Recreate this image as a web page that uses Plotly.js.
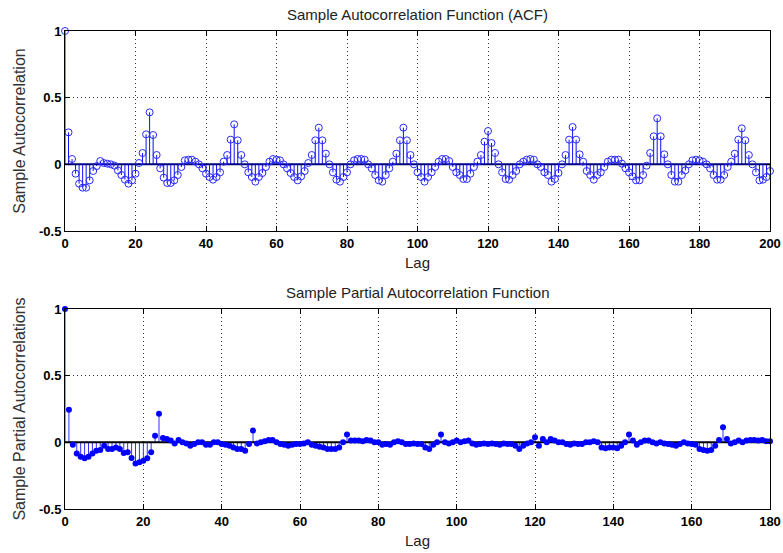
<!DOCTYPE html>
<html>
<head>
<meta charset="utf-8">
<script src="https://cdn.plot.ly/plotly-3.0.1.min.js"></script>
<style>html,body{margin:0;padding:0;background:#fff;}#chart{width:783px;height:553px;}</style>
</head>
<body>
<div id="chart"></div>
<script>
// ACF values, lags 0..200
const acfValues = [
 1.00, 0.24, 0.04, -0.07, -0.145, -0.175, -0.175, -0.12, -0.05, -0.013,
 0.025, 0.01, 0.005, 0.0, -0.01, -0.045, -0.08, -0.115, -0.145, -0.12,
 -0.07, 0.01, 0.085, 0.225, 0.39, 0.22, 0.07, -0.03, -0.10, -0.14,
 -0.14, -0.12, -0.08, -0.02, 0.03, 0.035, 0.035, 0.02, 0.0, -0.03,
 -0.07, -0.095, -0.115, -0.095, -0.06, 0.02, 0.07, 0.185, 0.30, 0.18,
 0.07, 0.0, -0.06, -0.095, -0.13, -0.095, -0.065, -0.02, 0.02, 0.04,
 0.035, 0.03, 0.0, -0.03, -0.065, -0.095, -0.12, -0.09, -0.05, 0.01,
 0.07, 0.18, 0.275, 0.18, 0.08, 0.0, -0.06, -0.115, -0.13, -0.095,
 -0.06, 0.0, 0.03, 0.04, 0.04, 0.035, 0.0, -0.03, -0.08, -0.12,
 -0.13, -0.08, -0.03, 0.02, 0.08, 0.18, 0.275, 0.18, 0.07, 0.0,
 -0.06, -0.095, -0.13, -0.095, -0.06, -0.02, 0.02, 0.04, 0.04, 0.025,
 -0.02, -0.06, -0.08, -0.11, -0.11, -0.07, -0.02, 0.02, 0.07, 0.17,
 0.25, 0.16, 0.085, 0.0, -0.06, -0.11, -0.115, -0.08, -0.05, 0.0,
 0.02, 0.035, 0.04, 0.035, 0.0, -0.02, -0.06, -0.08, -0.13, -0.11,
 -0.065, 0.0, 0.07, 0.185, 0.28, 0.185, 0.075, 0.02, -0.05, -0.08,
 -0.115, -0.08, -0.06, -0.02, 0.02, 0.035, 0.035, 0.035, 0.005, -0.03,
 -0.06, -0.09, -0.12, -0.12, -0.08, -0.01, 0.085, 0.21, 0.345, 0.21,
 0.075, 0.0, -0.08, -0.13, -0.13, -0.08, -0.045, 0.0, 0.03, 0.035,
 0.03, 0.02, 0.0, -0.03, -0.08, -0.115, -0.115, -0.08, -0.02, 0.02,
 0.08, 0.185, 0.27, 0.18, 0.07, 0.0, -0.06, -0.12, -0.115, -0.095,
 -0.05
];
// PACF values, lags 0..180
const pacfValues = [
 1.00, 0.245, -0.018, -0.083, -0.108, -0.12, -0.108, -0.083, -0.063, -0.058,
 -0.025, -0.05, -0.05, -0.038, -0.05, -0.08, -0.075, -0.118, -0.158, -0.15,
 -0.138, -0.12, -0.075, 0.05, 0.214, 0.033, 0.025, 0.013, -0.008, 0.018,
 0.0, -0.008, -0.025, -0.013, 0.0, 0.0, -0.018, -0.018, 0.0, 0.0,
 -0.013, -0.018, -0.025, -0.038, -0.05, -0.05, -0.063, -0.013, 0.088, -0.008,
 0.0, 0.008, 0.018, 0.018, 0.0, -0.013, -0.018, -0.025, -0.018, -0.013,
 -0.013, -0.008, 0.0, -0.018, -0.025, -0.033, -0.038, -0.05, -0.05, -0.05,
 -0.038, 0.0, 0.058, 0.013, 0.013, 0.013, 0.008, 0.018, 0.013, 0.0,
 0.0, -0.018, -0.013, -0.018, 0.0, 0.008, 0.0, -0.013, -0.013, -0.008,
 -0.013, -0.013, -0.038, -0.05, -0.018, 0.0, 0.058, 0.0, -0.008, 0.0,
 0.013, 0.0, 0.008, 0.013, -0.008, -0.018, -0.013, -0.008, -0.013, -0.008,
 -0.013, -0.018, -0.008, -0.013, -0.013, -0.025, -0.05, -0.025, -0.008, 0.0,
 0.038, -0.025, 0.025, 0.0, 0.025, 0.013, 0.0, 0.0, -0.013, -0.018,
 -0.008, -0.013, -0.013, 0.0, 0.0, 0.008, 0.0, -0.038, -0.045, -0.038,
 -0.038, -0.045, -0.025, 0.0, 0.058, 0.013, -0.018, 0.0, 0.013, 0.013,
 0.0, -0.008, 0.0, -0.008, -0.013, -0.018, -0.025, -0.013, 0.0, -0.008,
 -0.013, -0.018, -0.05, -0.058, -0.063, -0.058, -0.025, 0.018, 0.113, 0.025,
 -0.008, 0.0, 0.013, 0.0, 0.013, 0.018, 0.018, 0.013, 0.018, 0.008,
 0.008
];
const yTickVals = [-0.5, 0, 0.5, 1];
const yTickText = ["-0.5", "0", "0.5", "1"];
const acfXTicks = [0, 20, 40, 60, 80, 100, 120, 140, 160, 180, 200];
const pacfXTicks = [0, 20, 40, 60, 80, 100, 120, 140, 160, 180];

function lagsOf(arr){ return arr.map((_, i) => i); }
function stems(vals){
  const x = [], y = [];
  vals.forEach((v, i) => { x.push(i, i, null); y.push(0, v, null); });
  return {x, y};
}

const acfLags = lagsOf(acfValues);
const pacfLags = lagsOf(pacfValues);
const sA = stems(acfValues);
const sP = stems(pacfValues);

const traces = [
  {x: sA.x, y: sA.y, xaxis: 'x', yaxis: 'y', mode: 'lines', type: 'scatter',
   line: {color: '#1010ff', width: 1}, hoverinfo: 'skip', showlegend: false},
  {x: [acfLags[0], acfLags[acfLags.length-1]], y: [0, 0], xaxis: 'x', yaxis: 'y', mode: 'lines', type: 'scatter',
   line: {color: '#000080', width: 2}, hoverinfo: 'skip', showlegend: false},
  {x: acfLags, y: acfValues, xaxis: 'x', yaxis: 'y', mode: 'markers', type: 'scatter', cliponaxis: false,
   marker: {symbol: 'circle-open', size: 7, color: '#2a2aff', line: {width: 1}}, showlegend: false},
  {x: sP.x, y: sP.y, xaxis: 'x2', yaxis: 'y2', mode: 'lines', type: 'scatter',
   line: {color: '#3030ff', width: 1}, hoverinfo: 'skip', showlegend: false},
  {x: [pacfLags[0], pacfLags[pacfLags.length-1]], y: [0, 0], xaxis: 'x2', yaxis: 'y2', mode: 'lines', type: 'scatter',
   line: {color: '#000000', width: 2}, hoverinfo: 'skip', showlegend: false},
  {x: pacfLags, y: pacfValues, xaxis: 'x2', yaxis: 'y2', mode: 'markers', type: 'scatter', cliponaxis: false,
   marker: {symbol: 'circle', size: 6, color: '#0000ff'}, showlegend: false}
];

const FAM = 'Arial, "Liberation Sans", sans-serif';
const tickFont = {family: FAM, size: 13, color: '#000', weight: 'bold'};
const labFont = {family: FAM, size: 15, color: '#222'};

function xAxis(range, ticks, anchor){
  return {range: range, tickvals: ticks, ticks: 'inside', ticklen: 5, tickcolor: '#000',
    showline: true, linecolor: '#000', linewidth: 1, mirror: 'ticks',
    showgrid: true, gridcolor: '#333', gridwidth: 1, griddash: '1px,3px',
    zeroline: false, tickfont: tickFont, anchor: anchor,
    title: {text: 'Lag', font: labFont, standoff: 7}};
}
function yAxis(domain, title, anchor){
  return {range: [-0.5, 1], domain: domain, tickvals: yTickVals, ticktext: yTickText,
    ticks: 'inside', ticklen: 5, tickcolor: '#000',
    showline: true, linecolor: '#000', linewidth: 1, mirror: 'ticks',
    showgrid: true, gridcolor: '#333', gridwidth: 1, griddash: '1px,3px',
    zeroline: false, tickfont: tickFont, anchor: anchor,
    title: {text: title, font: {family: FAM, size: 16, color: '#333'}, standoff: 9}};
}

const layout = {
  width: 783, height: 553,
  margin: {l: 65, r: 13, t: 31, b: 44},
  paper_bgcolor: '#fff', plot_bgcolor: '#fff',
  xaxis: xAxis([0, 200], acfXTicks, 'y'),
  yaxis: yAxis([0.5816, 1], 'Sample Autocorrelation', 'x'),
  xaxis2: xAxis([0, 180], pacfXTicks, 'y2'),
  yaxis2: yAxis([0, 0.4184], 'Sample Partial Autocorrelations', 'x2'),
  annotations: [
    {text: 'Sample Autocorrelation Function (ACF)', xref: 'paper', yref: 'paper', x: 0.5, y: 1,
     yshift: 6, xanchor: 'center', yanchor: 'bottom', showarrow: false, font: labFont},
    {text: 'Sample Partial Autocorrelation Function', xref: 'paper', yref: 'paper', x: 0.5, y: 0.4184,
     yshift: 6, xanchor: 'center', yanchor: 'bottom', showarrow: false, font: labFont}
  ],
  showlegend: false
};

Plotly.newPlot('chart', traces, layout, {displayModeBar: false, staticPlot: true});
</script>
</body>
</html>
